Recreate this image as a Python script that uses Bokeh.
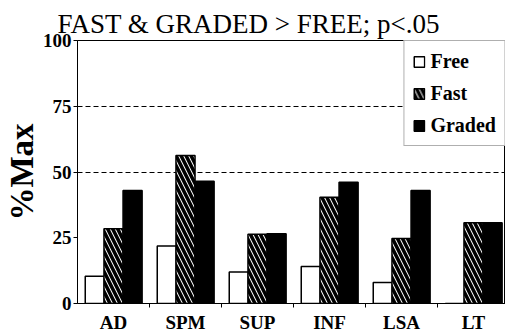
from bokeh.plotting import figure
from bokeh.models import Range1d, FixedTicker, Legend, LegendItem, Title, ColumnDataSource
from bokeh.embed import file_html
from bokeh.resources import INLINE

categories = ["AD", "SPM", "SUP", "INF", "LSA", "LT"]
free = [10.4, 21.9, 12.0, 14.1, 8.0, 0.0]
fast = [28.4, 56.3, 26.3, 40.4, 24.7, 30.7]
graded = [43.0, 46.5, 26.5, 46.1, 43.0, 30.7]
series_names = ["Free", "Fast", "Graded"]
y_ticks = [0, 25, 50, 75, 100]
grid_lines = [50, 75]
title_text = "FAST & GRADED > FREE;  p<.05"

SERIF = "Liberation Serif"
n = len(categories)
centers = [i + 0.5 for i in range(n)]

p = figure(width=505, height=335, output_backend="svg", toolbar_location=None,
           x_range=Range1d(0, 428 / 72), y_range=Range1d(0, 100),
           min_border_left=77, min_border_right=0, min_border_top=40, min_border_bottom=32)
p.title = Title(text=title_text, text_font=SERIF, text_font_size="27px", text_color="black",
                text_font_style="normal", align="left", offset=-20, standoff=4)
p.outline_line_color = "black"
p.background_fill_color = "white"
p.border_fill_color = "white"

bw = 0.265
offsets = [-0.26, 0.0, 0.265]
src = ColumnDataSource(dict(
    xf=[c + offsets[0] for c in centers], xs=[c + offsets[1] for c in centers],
    xg=[c + offsets[2] for c in centers], free=free, fast=fast, graded=graded))

r1 = p.vbar(x="xf", top="free", bottom=0, width=bw, source=src,
            fill_color="white", line_color="black", line_width=1.5)
r2 = p.vbar(x="xs", top="fast", bottom=0, width=bw, source=src,
            fill_color="white", line_color="black", line_width=1.5,
            hatch_pattern="\\", hatch_color="black", hatch_weight=3.5, hatch_scale=10)
r3 = p.vbar(x="xg", top="graded", bottom=0, width=bw, source=src,
            fill_color="black", line_color="black", line_width=1.5)

p.xgrid.visible = False
p.ygrid.ticker = FixedTicker(ticks=grid_lines)
p.ygrid.grid_line_color = "black"
p.ygrid.grid_line_dash = "5 3"
p.ygrid.grid_line_width = 1

p.yaxis.ticker = FixedTicker(ticks=y_ticks)
p.yaxis.major_label_text_font = SERIF
p.yaxis.major_label_text_font_style = "bold"
p.yaxis.major_label_text_font_size = "19px"
p.yaxis.major_label_text_color = "black"
p.yaxis.major_tick_out = 4
p.yaxis.major_tick_in = 0
p.yaxis.minor_tick_line_color = None
p.yaxis.axis_line_color = "black"
p.yaxis.major_label_standoff = 2
p.yaxis.axis_label = "%Max"
p.yaxis.axis_label_text_font = SERIF
p.yaxis.axis_label_text_font_style = "bold"
p.yaxis.axis_label_text_font_size = "33px"
p.yaxis.axis_label_text_color = "black"
p.yaxis.axis_label_standoff = 0

p.xaxis.ticker = FixedTicker(ticks=centers, minor_ticks=[i for i in range(1, n)])
p.xaxis.major_label_overrides = {c: name for c, name in zip(centers, categories)}
p.xaxis.major_tick_out = 0
p.xaxis.major_tick_in = 0
p.xaxis.minor_tick_out = 4
p.xaxis.minor_tick_in = 0
p.xaxis.minor_tick_line_color = "black"
p.xaxis.axis_line_color = "black"
p.xaxis.major_label_text_font = SERIF
p.xaxis.major_label_text_font_style = "bold"
p.xaxis.major_label_text_font_size = "19px"
p.xaxis.major_label_text_color = "black"
p.xaxis.major_label_standoff = 4

legend = Legend(items=[LegendItem(label=series_names[0], renderers=[r1]),
                       LegendItem(label=series_names[1], renderers=[r2]),
                       LegendItem(label=series_names[2], renderers=[r3])],
                location="top_right", margin=0, padding=8, spacing=8,
                glyph_width=13, glyph_height=13, label_height=24, label_standoff=5,
                label_text_font=SERIF, label_text_font_style="bold",
                label_text_font_size="20px", label_text_color="black",
                border_line_color="#606060", border_line_width=1,
                background_fill_color="white", background_fill_alpha=1)
p.add_layout(legend)

open("out.html", "w").write(file_html(p, INLINE))
